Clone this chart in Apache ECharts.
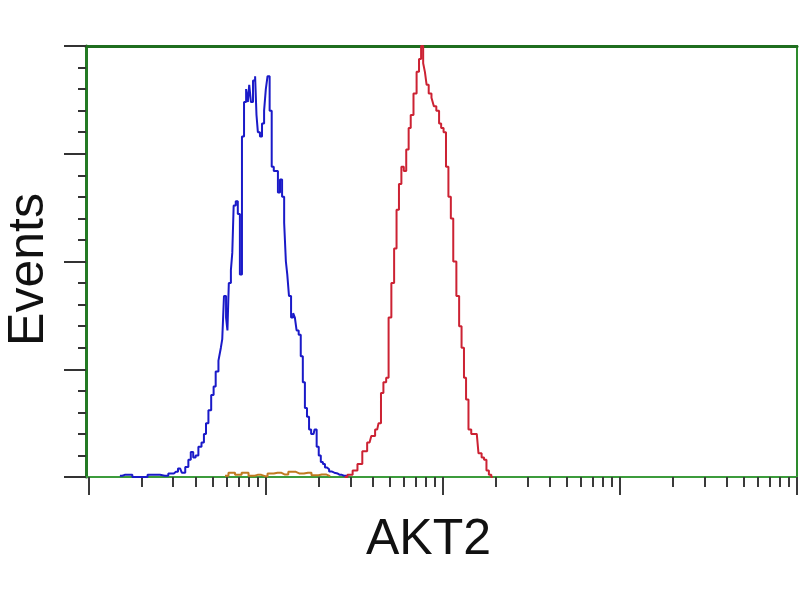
<!DOCTYPE html>
<html>
<head>
<meta charset="utf-8">
<script src="https://cdn.jsdelivr.net/npm/echarts@6/dist/echarts.min.js"></script>
<style>
html,body{margin:0;padding:0;background:#fff;}
#chart{width:800px;height:600px;}
</style>
</head>
<body>
<div id="chart"></div>
<script>
// x in log-amplified channels (0..1024 = 4 decades), y in % of max events
var blueChannel = [45,52,74,96,110,120,126,132,137,142,
  146,149,153,156,161,165,168,171,175,179,
  182,185,190,192,194,197,200,201,204,207,
  208,211,214,217,220,223,226,229,231,233,
  236,239,242,243,246,249,252,255,257,260,
  263,266,269,272,275,278,281,284,286,288,
  291,294,297,299,302,305,308,311,314,317,
  320,323,325,328,331,334,337,340,343,346,
  349,353,357,363,369,375];
var blueCount = [0.3,0.5,0,0.5,0.3,0.8,1.2,2,1,2.3,
  4,5.8,4.5,5,7,8,10,12.5,15.5,19,
  21,24.5,27,30,32,42,37,34,45,48,
  52,63,64,61,47,79,87,90,87,91,
  87,92,93,84,80,79,82,85,90,93,
  85,72,71,71,66,69,65,59,50,47,
  42,37,38,37,34,33,28,22,16,14,
  11,10,10,11,7,5,3.5,3,2.2,1.8,
  1.3,1,0.8,0.5,0.3,0];

var redChannel = [370,378,385,392,399,406,411,417,421,424,
  428,432,435,440,443,447,450,454,457,461,
  464,467,472,476,479,482,485,487,490,493,
  498,500,505,508,511,515,518,522,525,529,
  534,537,541,544,547,551,555,561,566,570,
  573,577,580,584];
var redCount = [0,0.5,1.5,3,6,8,9.5,11,12.5,19.5,
  22,23,37,45,53,62,68,72,71,76,
  81,84,89,94,97,100,96,94,91,89,
  88,86,85,82,81,80,72,65,60,50,
  42,35,30,23,18,11,10,10,5.5,4.5,
  4,1.5,0.5,0];

var orangeChannel = [197,207,216,226,236,244,255,262,273,283,294,305,317,327,337,349];
var orangeCount = [0.3,1,0.5,1,0.3,0.5,0.2,0.8,1,0.6,1.2,0.8,1,0.4,0.6,0.2];

var decadeTicks = [0,256,512,768,1024];
var minorMultipliers = [2,3,4,5,6,7,8,9];

var xTitle = 'AKT2';
var yTitle = 'Events';

function pairs(xs, ys){ return xs.map(function(x,i){ return [x, ys[i]]; }); }
var minorTicks = [];
for (var d = 0; d < decadeTicks.length - 1; d++) {
  minorMultipliers.forEach(function(m){
    minorTicks.push(decadeTicks[d] + 256 * Math.log10(m));
  });
}

var chart = echarts.init(document.getElementById('chart'), null, {renderer:'canvas'});
chart.setOption({
  animation: false,
  backgroundColor: '#ffffff',
  grid: {left: 86, right: 3, top: 46, bottom: 123, show: true, outerBoundsMode: 'none', containLabel: false,
         borderColor: '#2d8b2d', borderWidth: 2, backgroundColor: 'transparent'},
  xAxis: [{
    type: 'value', min: -4, max: 1024, position: 'bottom',
    axisLine: {show: true, onZero: false, lineStyle: {color: '#3c9c3c', width: 2}},
    axisTick: {show: true, customValues: decadeTicks, length: 18, lineStyle: {color: '#3a3a3a', width: 2}},
    axisLabel: {show: false},
    splitLine: {show: false},
    name: xTitle, nameLocation: 'middle', nameGap: 38,
    nameTextStyle: {fontFamily: 'Liberation Sans, Arial, sans-serif', fontSize: 50, color: '#111', padding: [0, 26, 0, 0]}
  }, {
    type: 'value', min: -4, max: 1024, position: 'bottom',
    axisLine: {show: false, onZero: false},
    axisTick: {show: true, customValues: minorTicks, length: 10, lineStyle: {color: '#3a3a3a', width: 2}},
    axisLabel: {show: false},
    splitLine: {show: false}
  }, {
    type: 'value', min: -4, max: 1024, position: 'top',
    axisLine: {show: true, onZero: false, lineStyle: {color: '#1f6e1f', width: 3}},
    axisTick: {show: false},
    axisLabel: {show: false},
    splitLine: {show: false}
  }],
  yAxis: {
    type: 'value', min: 0, max: 100, interval: 25,
    axisLine: {show: true, onZero: false, lineStyle: {color: '#237a23', width: 3}},
    axisTick: {show: true, length: 22, lineStyle: {color: '#333', width: 2}},
    minorTick: {show: true, splitNumber: 5, length: 8, lineStyle: {color: '#333', width: 2}},
    axisLabel: {show: false},
    splitLine: {show: false},
    name: yTitle, nameLocation: 'middle', nameGap: 32, nameRotate: 90,
    nameTextStyle: {fontFamily: 'Liberation Sans, Arial, sans-serif', fontSize: 50, color: '#111', padding: [0, 16, 0, 0]}
  },
  series: [{
    type: 'line', step: 'middle', showSymbol: false, z: 3,
    data: pairs(orangeChannel, orangeCount),
    lineStyle: {color: '#c07a20', width: 2}
  }, {
    type: 'line', step: 'middle', showSymbol: false, z: 4,
    data: pairs(blueChannel, blueCount),
    lineStyle: {color: '#1a1ac8', width: 2}
  }, {
    type: 'line', step: 'middle', showSymbol: false, z: 4,
    data: pairs(redChannel, redCount),
    lineStyle: {color: '#cc2233', width: 2}
  }]
});
</script>
</body>
</html>
